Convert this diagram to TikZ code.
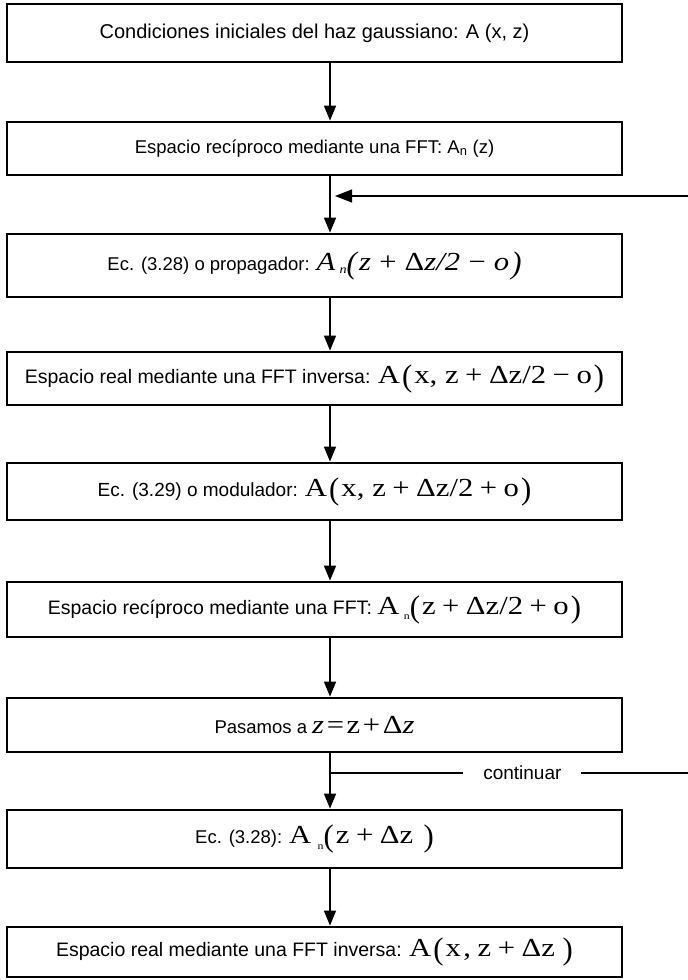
\documentclass[tikz,border=0pt]{standalone}
\usepackage{fontspec}
\setmainfont{Liberation Sans}
\newfontfamily\tms[FakeStretch=1.18]{Liberation Serif}
\usetikzlibrary{arrows.meta}
\newcommand{\bpl}{\raisebox{-0.1em}{\scalebox{1}[1.2]{(}}}
\newcommand{\bpr}{\raisebox{-0.1em}{\scalebox{1}[1.2]{)}}}
\newcommand{\mth}{\tms\fontsize{26}{27}\selectfont}
\newcommand{\sbn}{\raisebox{-0.45ex}{\fontsize{10}{10}\selectfont n}}
\newcommand{\opr}[1]{\hspace{0.25em}#1\hspace{0.25em}}
\newcommand{\gp}{\hspace{0.08em}}
\tikzset{
  box/.style={draw, line width=2.8pt, minimum width=615pt, inner sep=0pt, font=\fontsize{18.5}{22}\selectfont, anchor=center},
  bigtxt/.style={font=\fontsize{19.5}{22}\selectfont},
  flow/.style={line width=1.5pt, -{Triangle[length=15pt,width=12pt]}},
  plain/.style={line width=1.3pt},
  lbl/.style={fill=white, inner xsep=20pt, inner ysep=3pt, font=\fontsize{19}{22}\selectfont}
}
\begin{document}
\begin{tikzpicture}[x=1pt,y=-1pt]
\useasboundingbox (0,0) rectangle (688,980);
\node[box, minimum height=58pt, font=\fontsize{20}{22}\selectfont] (b1) at (314.5,33) {Condiciones iniciales del haz gaussiano: A (x, z)};
\node[box, minimum height=53pt] (b2) at (314.5,148.5) {Espacio recíproco mediante una FFT: A\textsubscript{n} (z)};
\node[box, minimum height=63pt] (b3) at (314.5,265.5) {Ec. (3.28) o propagador: {\mth\itshape A\,\raisebox{-0.3ex}{\fontsize{12}{12}\selectfont n}\bpl\gp z\opr{+}{\upshape Δ}z/2\opr{−}o\gp\bpr}};
\node[box, bigtxt, minimum height=53pt] (b4) at (314.5,378.5) {Espacio real mediante una FFT inversa: {\mth A\gp\bpl\gp x,\hspace{0.3em}z\opr{+}Δz/2\opr{−}o\gp\bpr}};
\node[box, minimum height=57pt, font=\fontsize{19}{22}\selectfont] (b5) at (314.5,491.5) {Ec. (3.29) o modulador: {\mth A\gp\bpl\gp x,\hspace{0.3em}z\opr{+}Δz/2\opr{+}o\gp\bpr}};
\node[box, bigtxt, minimum height=55pt] (b6) at (314.5,609.5) {Espacio recíproco mediante una FFT: {\mth A\,\sbn\bpl\gp z\opr{+}Δz/2\opr{+}o\gp\bpr}};
\node[box, minimum height=54pt] (b7) at (314.5,725) {Pasamos a {\mth{\itshape z}\hspace{0.1em}=\hspace{0.1em}z\hspace{0.1em}+\hspace{0.1em}Δ{\itshape z}}};
\node[box, minimum height=58pt] (b8) at (314.5,839) {Ec. (3.28): {\mth A\hspace{0.25em}\sbn\bpl\gp z\opr{+}Δz\hspace{0.4em}\bpr}};
\node[box, bigtxt, minimum height=50pt] (b9) at (314.5,952) {Espacio real mediante una FFT inversa: {\mth A\gp\bpl\gp x\hspace{0.1em},\hspace{0.25em}z\opr{+}Δz\hspace{0.3em}\bpr}};
\coordinate (ax) at (330,0);
\draw[flow] (b1.south -| ax) -- (b2.north -| ax);
\draw[flow] (b2.south -| ax) -- (b3.north -| ax);
\draw[flow] (b3.south -| ax) -- (b4.north -| ax);
\draw[flow] (b4.south -| ax) -- (b5.north -| ax);
\draw[flow] (b5.south -| ax) -- (b6.north -| ax);
\draw[flow] (b6.south -| ax) -- (b7.north -| ax);
\draw[flow] (b7.south -| ax) -- (b8.north -| ax);
\draw[flow] (b8.south -| ax) -- (b9.north -| ax);
\coordinate (fbR) at (688,196);
\coordinate (fbL) at (335,196);
\draw[plain, -{Triangle[length=17pt,width=13pt]}] (fbR) -- (fbL);
\coordinate (cL) at (331,773);
\coordinate (cR) at (688,773);
\draw[plain] (cL) -- node[lbl, pos=0.536] (cont) {continuar} (cR);
\end{tikzpicture}
\end{document}
